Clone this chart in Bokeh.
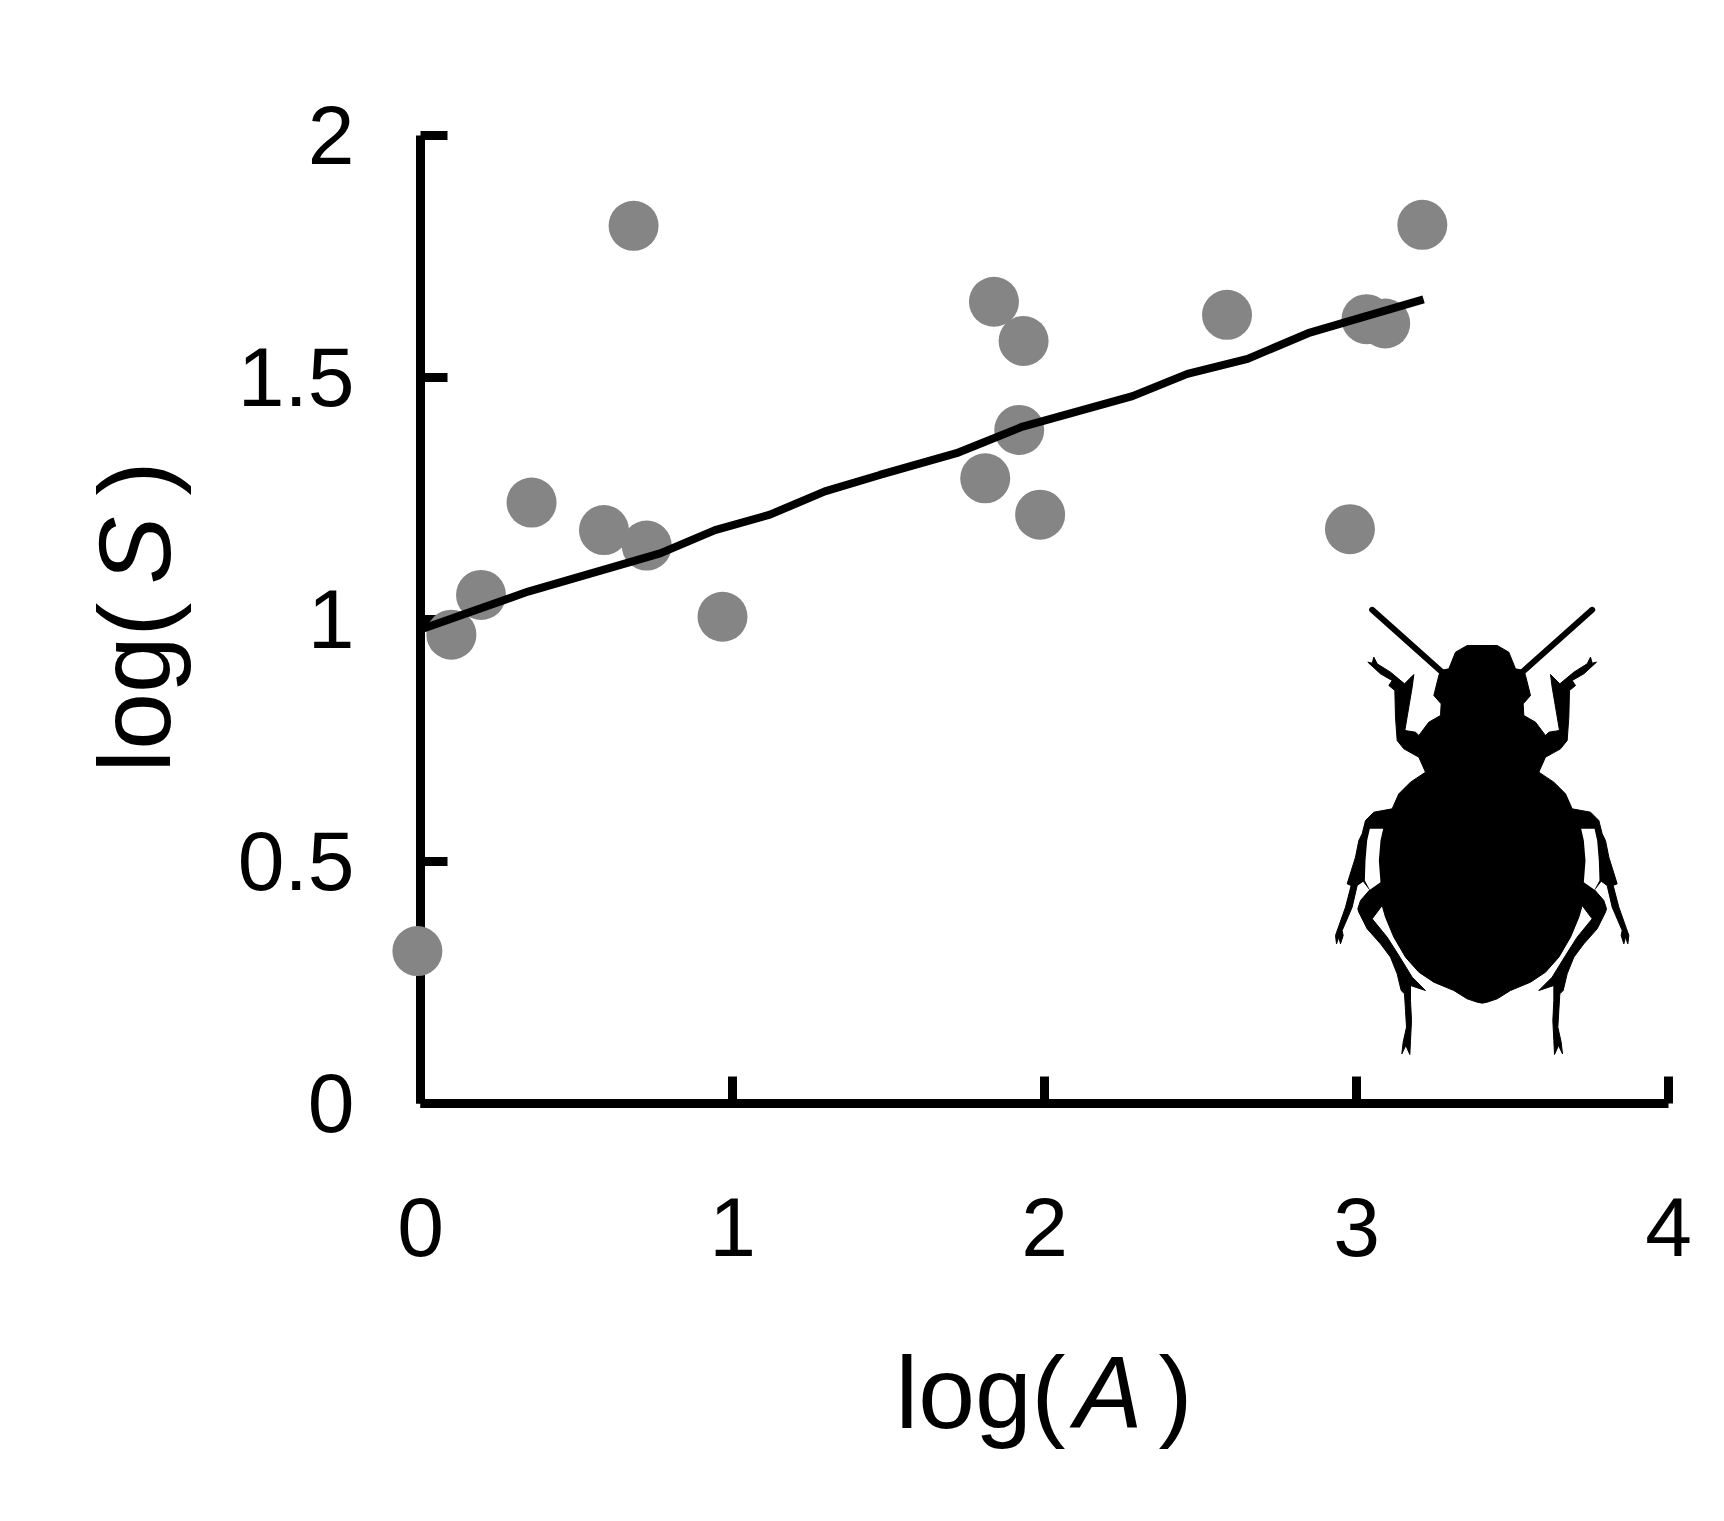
import math
from bokeh.embed import file_html
from bokeh.models import FixedTicker, Label, Range1d
from bokeh.plotting import figure
from bokeh.resources import INLINE

# values
log_a = [-0.01, 0.683, 0.356, 0.588, 0.725, 0.194, 0.099, 0.968, 1.838, 1.933,
         1.919, 1.81, 1.986, 2.585, 2.979, 3.032, 3.092, 3.211]
log_s = [0.314, 1.813, 1.241, 1.184, 1.152, 1.05, 0.968, 1.005, 1.656, 1.575,
         1.391, 1.291, 1.216, 1.629, 1.186, 1.62, 1.611, 1.815]

trend_a = [0.007, 0.345, 0.768, 0.944, 1.12, 1.296, 1.472, 1.718, 1.93, 2.282,
           2.458, 2.651, 2.845, 3.215]
trend_s = [0.98, 1.057, 1.136, 1.184, 1.216, 1.264, 1.298, 1.343, 1.398, 1.461,
           1.507, 1.538, 1.591, 1.661]

x_ticks = [0, 1, 2, 3, 4]
x_tick_labels = ["0", "1", "2", "3", "4"]
y_ticks = [0, 0.5, 1, 1.5, 2]
y_tick_labels = ["0", "0.5", "1", "1.5", "2"]

# left half of the beetle silhouette in its own drawing units, top to bottom
beetle_u = [545, 500, 465, 445, 420, 415, 400, 422, 420, 385, 355, 345, 313, 335, 340,
            312, 270, 230, 220, 215, 202, 240, 275, 265, 283, 285, 290, 310, 355, 375,
            330, 295, 275, 220, 195, 185, 175, 165, 140, 152, 135, 112, 105, 108, 115,
            120, 128, 125, 155, 170, 188, 208, 180, 172, 175, 200, 240, 270, 290, 302,
            312, 315, 318, 308, 304, 316, 328, 330, 333, 330, 330, 375, 335, 295, 260,
            215, 245, 255, 280, 315, 355, 400, 460, 500, 530, 545]
beetle_v = [195, 195, 215, 265, 270, 285, 345, 370, 405, 425, 465, 455, 450, 320, 282,
            310, 275, 250, 230, 248, 245, 280, 300, 315, 330, 410, 480, 505, 530, 575,
            605, 640, 685, 695, 720, 760, 780, 830, 910, 915, 980, 1045, 1065, 1090, 1070,
            1090, 1065, 1050, 980, 915, 902, 928, 960, 985, 995, 1045, 1090, 1130, 1180, 1230,
            1240, 1290, 1340, 1385, 1420, 1395, 1422, 1380, 1320, 1260, 1215, 1230, 1190, 1125, 1070,
            1015, 975, 1010, 1070, 1130, 1175, 1205, 1230, 1255, 1265, 1268]
gap_u = [208, 248, 240, 235, 240, 208, 193, 195, 200]
gap_v = [745, 745, 780, 840, 905, 928, 900, 840, 780]
antenna_u = [215, 425]
antenna_v = [88, 275]
BEETLE_AXIS = 1090  # the silhouette is symmetric about u = 545

W, H = 1708, 1505
# picture pixels of the data origin and of one data unit
X0, Y0, XU, YU = 420, 1102.5, 312, 483.85


def dx(px):
    return (px - X0) / XU


def dy(py):
    return (Y0 - py) / YU


def mirror(us):
    return [BEETLE_AXIS - u for u in us]


p = figure(width=W, height=H, output_backend="svg", toolbar_location=None,
           x_range=Range1d(dx(0), dx(W)), y_range=Range1d(dy(H), dy(0)),
           min_border=0, min_border_left=0, min_border_right=0,
           min_border_top=0, min_border_bottom=0)
p.outline_line_color = None
p.grid.visible = False
p.background_fill_color = "white"
p.border_fill_color = "white"

p.extra_x_ranges["icon"] = Range1d((0 - 1300) * 3, (W - 1300) * 3)
p.extra_y_ranges["icon"] = Range1d((H - 580) * 3, (0 - 580) * 3)
icon = dict(x_range_name="icon", y_range_name="icon")

# dots and trend sit on top of the axes in the original
p.scatter(log_a, log_s, marker="circle", size=50, fill_color="#858585", line_color=None,
          level="annotation")
p.line(trend_a, trend_s, line_color="black", line_width=8, level="annotation")

p.patch(beetle_u + mirror(beetle_u)[::-1], beetle_v + beetle_v[::-1],
        fill_color="black", line_color="black", line_width=1, **icon)
p.patch(gap_u, gap_v, fill_color="white", line_color=None, **icon)
p.patch(mirror(gap_u), gap_v, fill_color="white", line_color=None, **icon)
p.multi_line([antenna_u, mirror(antenna_u)], [antenna_v, antenna_v],
             line_color="black", line_width=6, line_cap="round", **icon)

for axis, ticks, labels, standoff in [(p.xaxis[0], x_ticks, x_tick_labels, 95),
                                      (p.yaxis[0], y_ticks, y_tick_labels, 66)]:
    axis.fixed_location = 0
    axis.bounds = (ticks[0], ticks[-1])
    axis.ticker = FixedTicker(ticks=ticks)
    axis.major_label_overrides = dict(zip(ticks, labels))
    axis.axis_line_width = 9
    axis.axis_line_color = "black"
    axis.major_tick_line_width = 9
    axis.major_tick_line_color = "black"
    axis.major_tick_in = 27
    axis.major_tick_out = 0
    axis.minor_tick_line_color = None
    axis.major_label_standoff = standoff
    axis.major_label_text_font = "Liberation Sans"
    axis.major_label_text_font_size = "84px"
    axis.major_label_text_color = "black"


def add_text(text, px, py, size=102, style="normal", angle=0):
    p.add_layout(Label(x=dx(px), y=dy(py), text=text, angle=angle,
                       text_font="Liberation Sans", text_font_size=f"{size}px",
                       text_font_style=style, text_color="black",
                       text_align="left", text_baseline="alphabetic"))


add_text("log(", 895, 1392)
add_text("A", 1074, 1392, style="italic")
add_text(")", 1158, 1392)
add_text("log(", 134, 772, angle=math.pi / 2)
add_text("S", 134, 584, style="italic", angle=math.pi / 2)
add_text(")", 134, 495, angle=math.pi / 2)

open("out.html", "w").write(file_html(p, INLINE))
